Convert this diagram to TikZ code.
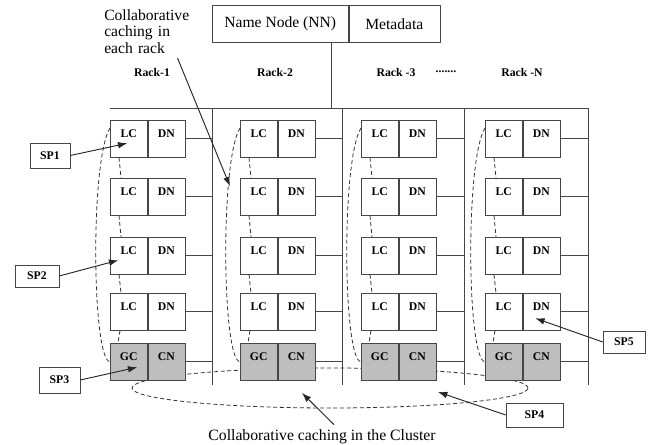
\documentclass[tikz,border=0pt]{standalone}
\usepackage{fontspec}
\setmainfont{Liberation Serif}
\usetikzlibrary{shapes.geometric,arrows.meta,positioning,calc}
\definecolor{boxgray}{RGB}{190,190,190}
\definecolor{linegray}{RGB}{70,70,70}
\tikzset{
  cell/.style={draw=linegray,fill=white,minimum width=27.75pt,minimum height=27.75pt,
               inner sep=0pt,text height=7pt,text depth=9pt,
               font=\fontsize{8.8}{10}\selectfont\bfseries},
  gcell/.style={cell,fill=boxgray},
  spbox/.style={draw=linegray,fill=white,minimum width=31pt,minimum height=18pt,
                inner sep=0pt,font=\fontsize{8.8}{10}\selectfont\bfseries},
  topbox/.style={draw=linegray,minimum height=27.75pt,inner sep=0pt,
                 font=\fontsize{11.7}{13}\selectfont},
  racklabel/.style={font=\fontsize{8.8}{10}\selectfont\bfseries},
  wire/.style={draw=linegray,line width=0.6pt},
  dashline/.style={draw=black!80,line width=0.6pt,dash pattern=on 3pt off 2pt},
  pointer/.style={draw=black!85,line width=0.7pt,-{Latex[length=7pt,width=5pt]}}
}

\begin{document}
\begin{tikzpicture}[x=0.75pt,y=-0.75pt]
  \fill[white] (0,0) rectangle (654,445);
  \useasboundingbox (0,0) rectangle (654,445);

  % name node on top
  \node[topbox,minimum width=102pt,anchor=north west] (nn) at (212,5) {Name Node (NN)};
  \node[topbox,minimum width=68.25pt,right=0pt of nn] (meta) {Metadata};

  % rack labels
  \node[racklabel] (rack1) at (152,72) {Rack-1};
  \node[racklabel] (rack2) at (275,72) {Rack-2};
  \node[racklabel] (rack3) at (396,72) {Rack -3};
  \node[racklabel] (rackdots) at (446,72) {.......};
  \node[racklabel] (rackN) at (522,72) {Rack -N};

  % cluster ring (behind the GC/CN boxes)
  \node[ellipse,dashline,minimum width=297pt,minimum height=30pt,inner sep=0pt] (ring) at (330,388) {};

  % switch lines
  \coordinate (bus) at (331,108);
  \coordinate (grid-left) at (110,108);
  \foreach \i/\b in {1/212,2/342,3/464,4/588} {
    \coordinate (bus-\i-top) at (\b,108);
    \coordinate (bus-\i-bot) at (\b,385);
    \draw[wire] (bus-\i-top) -- (bus-\i-bot);
  }
  \draw[wire] (grid-left) -- (bus-4-top);
  \draw[wire] (nn.south -| bus) -- (bus);

  % racks
  \foreach \i/\x in {1/110,2/240,3/361,4/485} {
    \foreach \k/\y in {1/120,2/178,3/237,4/293} {
      \node[cell,anchor=north west] (lc-\i-\k) at (\x,\y) {LC};
      \node[cell,right=0pt of lc-\i-\k] (dn-\i-\k) {DN};
      \draw[wire] (dn-\i-\k.east) -- (dn-\i-\k.east -| bus-\i-top);
    }
    \node[gcell,anchor=north west] (gc-\i) at (\x,343) {GC};
    \node[gcell,right=0pt of gc-\i] (cn-\i) {CN};
    \draw[wire] (cn-\i.east) -- (cn-\i.east -| bus-\i-top);
    % caching inside the rack
    \foreach \k/\n in {1/2,2/3,3/4}
      \draw[dashline] ($(lc-\i-\k.south west)+(9,0)$) -- ($(lc-\i-\n.north west)+(11,0)$);
    \draw[dashline] ($(lc-\i-4.south west)+(10,0)$) -- ($(gc-\i.north west)+(8,0)$);
    \draw[dashline] ($(lc-\i-1.north west)+(0,8)$) .. controls +(-20,32) and +(-18,-1) .. (gc-\i.west);
  }

  % texts
  \node[anchor=north west,inner sep=0pt,text width=69.75pt,align=left,
        font=\fontsize{11.7}{12.6}\selectfont] (inrack) at (104,9)
        {Collaborative\\\makebox[\linewidth][s]{caching in}\\each rack};
  \node[font=\fontsize{11.8}{13}\selectfont] (incluster) at (322,436.5)
        {Collaborative caching in the Cluster};
  \draw[pointer] ($(inrack.south east)+(-20,4)$) -- ($(lc-2-2.west)+(-10,-10.5)$);
  \draw[pointer] ($(incluster.north)+(12,0)$) -- ($(ring.center)+(-28,5)$);

  % SP markers
  \node[spbox,minimum width=30pt,minimum height=18.75pt] (sp1) at (50,155.5) {SP1};
  \node[spbox,minimum width=33pt,minimum height=16.5pt] (sp2) at (37,276) {SP2};
  \node[spbox,minimum width=30.75pt,minimum height=19.5pt] (sp3) at (59.5,380) {SP3};
  \node[spbox,minimum width=42.75pt] (sp4) at (534.5,415) {SP4};
  \node[spbox,minimum width=31.5pt,minimum height=16.5pt] (sp5) at (624,342) {SP5};
  \draw[pointer] (sp1.east) -- ($(lc-1-1.center)+(-1.5,4.5)$);
  \draw[pointer] (sp2.east) -- ($(lc-1-3.center)+(-10.5,4.5)$);
  \draw[pointer] (sp3.east) -- ($(gc-1.center)+(8.5,5.5)$);
  \draw[pointer] (sp4.west) -- ($(ring.center)+(108,4)$);
  \draw[pointer] (sp5.west) -- ($(dn-4-4.center)+(-6,6.5)$);
\end{tikzpicture}
\end{document}
